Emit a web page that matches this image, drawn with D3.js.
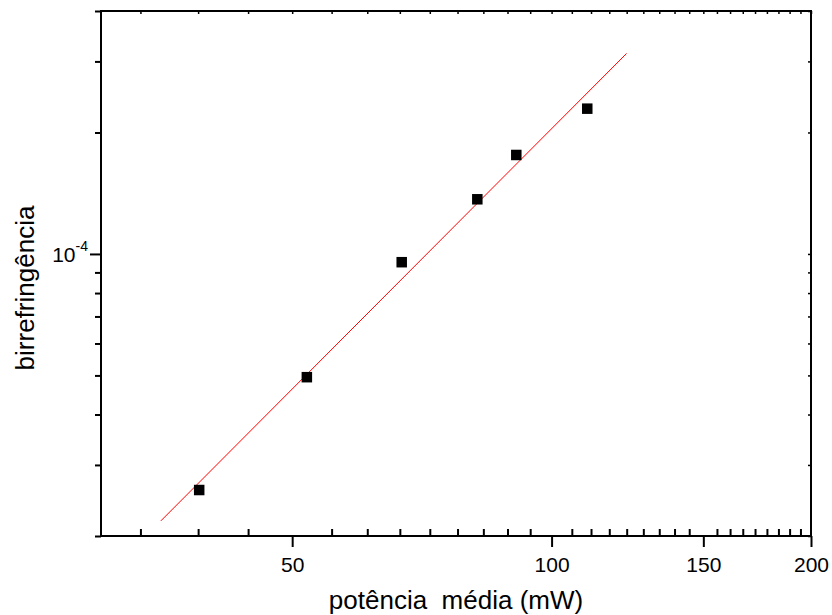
<!DOCTYPE html>
<html>
<head>
<meta charset="utf-8">
<script src="https://cdn.jsdelivr.net/npm/d3@7/dist/d3.min.js"></script>
<style>
  body { margin: 0; background: #fff; }
  svg { display: block; }
  text { font-family: "Liberation Sans", Arial, sans-serif; fill: #000; }
</style>
</head>
<body>
<svg id="chart" width="832" height="615"></svg>
<script>
// Measured points: average power (mW) vs birefringence
const powerMW = [39, 52, 67, 82, 91, 110];
const birefringence = [2.60e-5, 4.95e-5, 9.54e-5, 1.366e-4, 1.759e-4, 2.291e-4];

// Power-law fit drawn as a straight segment on log-log axes
const fitPowerMW = [35.2, 122.2];
const fitBirefringence = [2.18e-5, 3.14e-4];

// Axis ticks
const xMajorTicks = [50, 100, 150, 200];
const xMajorLabels = ["50", "100", "150", "200"];
const yMajorTicks = [1e-4];
const yMinorTicks = [2e-5, 3e-5, 4e-5, 5e-5, 6e-5, 7e-5, 8e-5, 9e-5, 2e-4, 3e-4, 4e-4];

const xTitle = "potência  média (mW)";
const yTitle = "birrefringência";

const svg = d3.select("#chart");
const frame = { left: 101, right: 811, top: 11, bottom: 536 };

const x = d3.scaleLog().domain([30, 200]).range([frame.left, frame.right]);
const y = d3.scaleLog().domain([2e-5, 4e-4]).range([frame.bottom, frame.top]);

// eight evenly spaced minor ticks between majors (step 50/9)
const xMinorTicks = d3.range(6, 36).filter(k => k % 9 !== 0).map(k => k * 50 / 9);

const strip = g => g.select(".domain").remove();

// bottom axis: majors outward, minors inward
svg.append("g")
  .attr("transform", `translate(0,${frame.bottom})`)
  .call(d3.axisBottom(x).tickValues(xMajorTicks).tickSize(11).tickPadding(10)
    .tickFormat((d, i) => xMajorLabels[i]))
  .call(strip)
  .call(g => g.selectAll("text").attr("font-size", 21).attr("font-family", null))
  .call(g => g.selectAll("line").attr("stroke-width", 2));

svg.append("g")
  .attr("transform", `translate(0,${frame.bottom})`)
  .call(d3.axisTop(x).tickValues(xMinorTicks).tickSize(7).tickFormat(""))
  .call(strip)
  .call(g => g.selectAll("line").attr("stroke-width", 2));

// top axis: small inward ticks
svg.append("g")
  .attr("transform", `translate(0,${frame.top})`)
  .call(d3.axisBottom(x).tickValues(xMinorTicks.concat(xMajorTicks)).tickSize(3).tickFormat(""))
  .call(strip)
  .call(g => g.selectAll("line").attr("stroke-width", 1.5));

// left axis: ticks outward
svg.append("g")
  .attr("transform", `translate(${frame.left},0)`)
  .call(d3.axisLeft(y).tickValues(yMajorTicks).tickSize(11).tickPadding(2).tickFormat(""))
  .call(strip)
  .call(g => g.selectAll("line").attr("stroke-width", 2))
  .call(g => g.selectAll(".tick text")
    .attr("font-family", null)
    .attr("font-size", 21)
    .attr("dy", "0.35em")
    .each(function () {
      const t = d3.select(this);
      t.append("tspan").text("10");
      t.append("tspan").attr("font-size", 14).attr("dy", "-0.75em").text("-4");
    }));

svg.append("g")
  .attr("transform", `translate(${frame.left},0)`)
  .call(d3.axisLeft(y).tickValues(yMinorTicks).tickSize(6).tickFormat(""))
  .call(strip)
  .call(g => g.selectAll("line").attr("stroke-width", 2));

// right axis: small inward ticks
svg.append("g")
  .attr("transform", `translate(${frame.right},0)`)
  .call(d3.axisLeft(y).tickValues(yMinorTicks.concat(yMajorTicks)).tickSize(3).tickFormat(""))
  .call(strip)
  .call(g => g.selectAll("line").attr("stroke-width", 1.5));

// frame
svg.append("rect")
  .attr("x", frame.left).attr("y", frame.top)
  .attr("width", frame.right - frame.left).attr("height", frame.bottom - frame.top)
  .attr("fill", "none").attr("stroke", "#000").attr("stroke-width", 2);

// fit line
svg.append("line")
  .attr("x1", x(fitPowerMW[0])).attr("y1", y(fitBirefringence[0]))
  .attr("x2", x(fitPowerMW[1])).attr("y2", y(fitBirefringence[1]))
  .attr("stroke", "#ff0000").attr("stroke-width", 1);

// data markers
const s = 10.5;
svg.append("g").selectAll("rect")
  .data(powerMW.map((p, i) => [p, birefringence[i]]))
  .join("rect")
  .attr("x", d => x(d[0]) - s / 2)
  .attr("y", d => y(d[1]) - s / 2)
  .attr("width", s).attr("height", s)
  .attr("fill", "#000");

// axis titles
svg.append("text")
  .attr("x", (frame.left + frame.right) / 2).attr("y", 609)
  .attr("text-anchor", "middle")
  .attr("font-size", 26)
  .style("white-space", "pre")
  .text(xTitle);

svg.append("text")
  .attr("transform", "translate(34,288) rotate(-90)")
  .attr("text-anchor", "middle")
  .attr("font-size", 26)
  .text(yTitle);
</script>
</body>
</html>
